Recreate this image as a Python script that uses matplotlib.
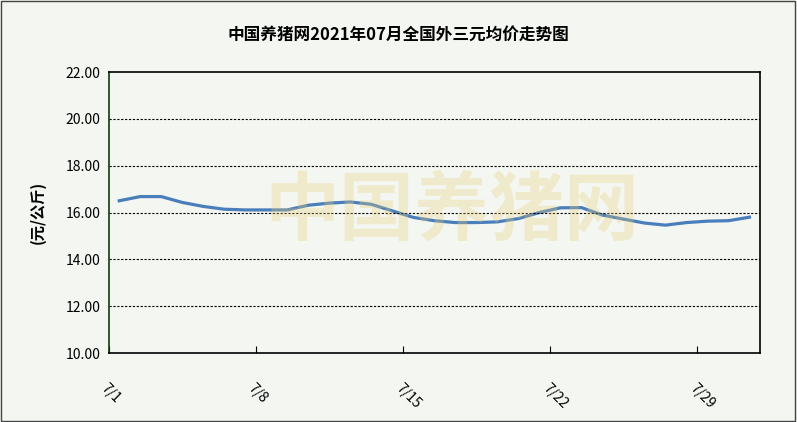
import matplotlib
matplotlib.use("Agg")
import matplotlib.pyplot as plt
plt.rcParams['font.family'] = ['Noto Sans CJK SC', 'DejaVu Sans']

dates = [f"7/{d}" for d in range(1, 32)]
prices = [16.50, 16.68, 16.68, 16.43, 16.26, 16.14, 16.11, 16.11, 16.11, 16.31, 16.40,
          16.45, 16.35, 16.07, 15.79, 15.65, 15.57, 15.57, 15.60, 15.74, 16.00, 16.20,
          16.21, 15.89, 15.72, 15.55, 15.46, 15.57, 15.63, 15.65, 15.80]
tick_labels = ["7/1", "7/8", "7/15", "7/22", "7/29"]
title = "中国养猪网2021年07月全国外三元均价走势图"

W, H = 797, 422
fig = plt.figure(figsize=(W/100, H/100), dpi=100, facecolor='#f4f6f2')
fig.patches.append(plt.Rectangle((0.001, 0.002), 0.997, 0.995, transform=fig.transFigure,
                                 fill=False, edgecolor='#444444', lw=1))
ax = fig.add_axes([108.7/W, 1-353/H, (760-108.7)/W, (353-72)/H])
ax.set_facecolor('#f4f6f2')
x = list(range(len(prices)))
ax.plot(x, prices, color='#4a7ebb', lw=2.3)
ax.set_xlim(-0.5, len(prices)-0.5)
ax.set_ylim(10, 22)
ax.set_yticks([10, 12, 14, 16, 18, 20, 22])
ax.set_yticklabels([f"{v:.2f}" for v in [10, 12, 14, 16, 18, 20, 22]], fontsize=10)
ax.set_xticks([-0.5, 6.5, 13.5, 20.5, 27.5])
ax.set_xticklabels(tick_labels, rotation=-45, ha='left', va='top', fontsize=10,
                   rotation_mode='anchor')
ax.tick_params(axis='x', length=5, direction='in', pad=20)
ax.tick_params(axis='y', length=0, pad=6)
for y in range(12, 22, 2):
    ax.axhline(y, color='black', lw=0.8, ls=(0, (2, 1.5)))
ax.spines['left'].set_color('#0b3d0b')
for s in ['right', 'top', 'bottom']:
    ax.spines[s].set_color('black')
for s in ax.spines.values():
    s.set_linewidth(1.2)
ax.set_ylabel("(元/公斤)", fontsize=11, labelpad=14, fontweight='bold')
fig.text(0.5, 1-35/H, title, ha='center', va='center', fontsize=12, fontweight='bold')
fig.text(452/W, 1-212/H, "中国养猪网", ha='center', va='center', fontsize=54,
         fontweight='bold', color='#e8cf7a', alpha=0.3)
fig.savefig("out.png", dpi=100, facecolor=fig.get_facecolor())
